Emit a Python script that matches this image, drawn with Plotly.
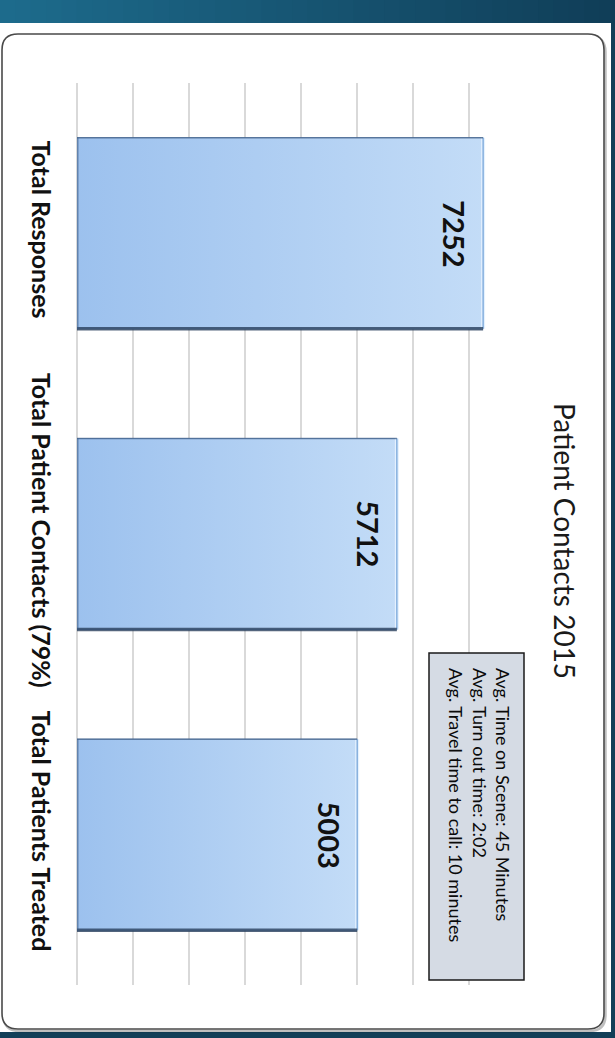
import plotly.graph_objects as go

# Chart data
categories = ["Total Responses", "Total Patient Contacts (79%)", "Total Patients Treated"]
values = [7252, 5712, 5003]
stats_lines = [
    "Avg. Time on Scene: 45 Minutes",
    "Avg. Turn out time: 2:02",
    "Avg. Travel time to call: 10 minutes",
]
chart_title = "Patient Contacts 2015"

W, H = 615, 1038
L, R, T, B = 77, 90, 83, 53
PW, PH = W - L - R, H - T - B
BAR_W = 0.635


def px_x(px):
    return (px - L) / PW


def px_y(py):
    return 1 - (py - T) / PH


FONT = "Lato"
positions = list(range(len(categories)))

fig = go.Figure()

fig.add_trace(go.Bar(
    x=values,
    y=positions,
    orientation="h",
    width=BAR_W,
    marker=dict(color="#b0cef1", line=dict(color="#5b86b8", width=1)),
    hoverinfo="x+y",
))

# soft left-to-right shading and bevelled edges on each bar
for pos, val in zip(positions, values):
    lo, hi = pos - BAR_W / 2, pos + BAR_W / 2
    fig.add_trace(go.Scatter(
        x=[0, val, val, 0, 0], y=[lo, lo, hi, hi, lo],
        mode="lines", fill="toself", line=dict(width=0),
        fillgradient=dict(type="horizontal", start=0, stop=val,
                          colorscale=[[0, "#9cc1ee"], [1, "#c3dcf7"]]),
        hoverinfo="skip",
    ))
    # light highlight along the far end
    fig.add_trace(go.Scatter(
        x=[val, val], y=[lo, hi], mode="lines",
        line=dict(color="#e4f1fe", width=4), hoverinfo="skip",
    ))
    fig.add_trace(go.Scatter(
        x=[val, val], y=[lo, hi], mode="lines",
        line=dict(color="#6e9fd6", width=1.2), hoverinfo="skip",
    ))
    # shadowed lower edge
    fig.add_trace(go.Scatter(
        x=[0, val], y=[hi, hi], mode="lines",
        line=dict(color="rgba(40,62,92,0.8)", width=3.5), hoverinfo="skip",
    ))
    fig.add_trace(go.Scatter(
        x=[0, val], y=[lo, lo], mode="lines",
        line=dict(color="rgba(60,90,130,0.7)", width=1.5), hoverinfo="skip",
    ))
    fig.add_trace(go.Scatter(
        x=[0, 0], y=[lo, hi], mode="lines",
        line=dict(color="rgba(60,90,130,0.6)", width=3), hoverinfo="skip",
    ))

# value labels near the end of each bar, rotated with the rest of the chart
for pos, val in zip(positions, values):
    fig.add_annotation(
        x=val, y=pos, xref="x", yref="y", text=str(val), showarrow=False,
        textangle=90, xshift=-28, xanchor="center", yanchor="middle",
        font=dict(family=FONT, size=29, color="#111111", weight="bold"),
    )

shapes = []
# header band gradient
n_strips = 40
c0, c1 = (0x1d, 0x6b, 0x8c), (0x10, 0x3e, 0x58)
for i in range(n_strips):
    t = i / (n_strips - 1)
    col = "rgb({},{},{})".format(*[round(a + (b - a) * t) for a, b in zip(c0, c1)])
    shapes.append(dict(
        type="rect", xref="paper", yref="paper", layer="below",
        x0=px_x(W * i / n_strips), x1=px_x(W * (i + 1) / n_strips + 1),
        y0=px_y(0), y1=px_y(23), fillcolor=col, line=dict(width=0),
    ))
# white slide panel
shapes.append(dict(
    type="rect", xref="paper", yref="paper", layer="below",
    x0=px_x(0), x1=px_x(611), y0=px_y(23), y1=px_y(1032),
    fillcolor="white", line=dict(width=0),
))
# rounded chart frame with a faint drop shadow
x0, x1, y0, y1, r = 2, 604, 34, 1029, 16


def P(x, y):
    return f"{px_x(x):.5f},{px_y(y):.5f}"


def frame(dx, dy):
    a, b, c, d = x0 + dx, x1 + dx, y0 + dy, y1 + dy
    return (
        f"M {P(a + r, c)} L {P(b - r, c)} Q {P(b, c)} {P(b, c + r)} "
        f"L {P(b, d - r)} Q {P(b, d)} {P(b - r, d)} "
        f"L {P(a + r, d)} Q {P(a, d)} {P(a, d - r)} "
        f"L {P(a, c + r)} Q {P(a, c)} {P(a + r, c)} Z"
    )


shapes.append(dict(
    type="path", xref="paper", yref="paper", layer="below", path=frame(1.5, 2),
    line=dict(color="rgba(0,0,0,0.25)", width=2.5), fillcolor="rgba(0,0,0,0)",
))
shapes.append(dict(
    type="path", xref="paper", yref="paper", layer="below", path=frame(0, 0),
    line=dict(color="#4a4a4a", width=1.6), fillcolor="white",
))
# stats text box
shapes.append(dict(
    type="rect", xref="paper", yref="paper", layer="above",
    x0=px_x(429), x1=px_x(524), y0=px_y(653), y1=px_y(980),
    fillcolor="#d5dbe4", line=dict(color="#1a1a1a", width=1.5),
))

fig.add_annotation(
    x=px_x(480), y=px_y(805), xref="paper", yref="paper",
    text="<br>".join(stats_lines), showarrow=False, textangle=90, align="left",
    xanchor="center", yanchor="middle",
    font=dict(family=FONT, size=18, color="#0a0a0a"),
)

fig.add_annotation(
    x=px_x(565), y=px_y(541), xref="paper", yref="paper",
    text=chart_title, showarrow=False, textangle=90,
    xanchor="center", yanchor="middle",
    font=dict(family=FONT, size=28, color="#1a1a1a"),
)

fig.update_layout(
    width=W, height=H,
    margin=dict(l=L, r=R, t=T, b=B, pad=0),
    paper_bgcolor="#123f58",
    plot_bgcolor="rgba(0,0,0,0)",
    showlegend=False,
    shapes=shapes,
    xaxis=dict(
        range=[0, 8000], dtick=1000, showticklabels=False, ticks="",
        showgrid=True, gridcolor="#d9d9d9", gridwidth=1.5,
        zeroline=True, zerolinecolor="#d9d9d9", zerolinewidth=1.5,
        showline=False, fixedrange=True,
    ),
    yaxis=dict(
        range=[2.5, -0.5], tickvals=positions, ticktext=categories,
        tickangle=90, ticks="", showgrid=False, zeroline=False, showline=False,
        tickfont=dict(family=FONT, size=25, color="#111111", weight="bold"),
        ticklabelstandoff=19, fixedrange=True,
    ),
)

fig.write_html("out.html")
